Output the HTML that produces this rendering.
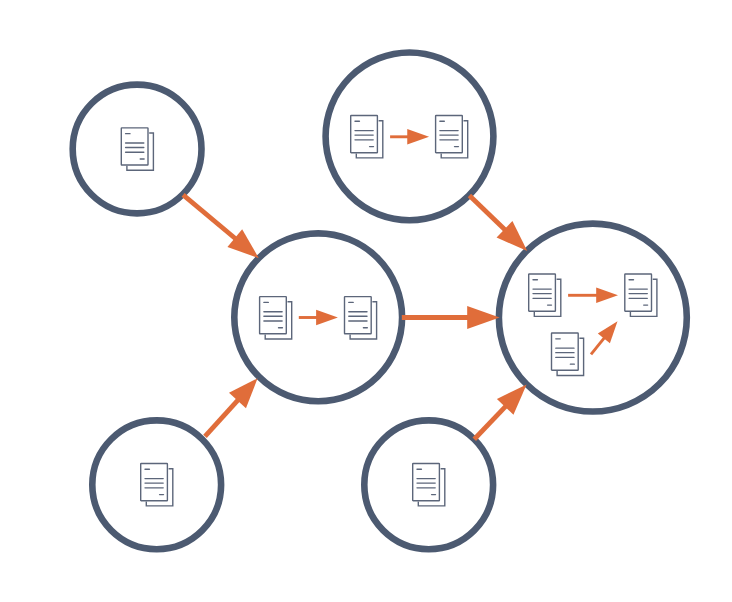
<!DOCTYPE html>
<html><head><meta charset="utf-8"><style>
html,body{margin:0;padding:0;background:#fff;width:732px;height:602px;overflow:hidden;font-family:"Liberation Sans",sans-serif;}
svg{display:block;position:absolute;left:0;top:0;}
</style></head><body>
<svg width="732" height="602" viewBox="0 0 732 602">
<circle cx="137.1" cy="149.0" r="64.4" fill="none" stroke="#4c5a71" stroke-width="6.6"/>
<circle cx="409.5" cy="136.35" r="83.9" fill="none" stroke="#4c5a71" stroke-width="6.6"/>
<circle cx="318.2" cy="317.3" r="83.9" fill="none" stroke="#4c5a71" stroke-width="6.6"/>
<circle cx="592.85" cy="317.6" r="93.95" fill="none" stroke="#4c5a71" stroke-width="6.6"/>
<circle cx="156.7" cy="484.8" r="64.4" fill="none" stroke="#4c5a71" stroke-width="6.6"/>
<circle cx="428.7" cy="484.8" r="64.4" fill="none" stroke="#4c5a71" stroke-width="6.6"/>
<g transform="translate(120.9,127.15)"><rect x="0.39999999999999997" y="0.7" width="26.700000000000003" height="37.2" rx="0.5" fill="none" stroke="#5c667a" stroke-width="1.4"/><path d="M28.3 5.9 H32.5 V43.099999999999994 H6.0 V38.6" fill="none" stroke="#5c667a" stroke-width="1.4"/><line x1="4.7" y1="6.5" x2="9.100000000000001" y2="6.5" stroke="#5c667a" stroke-width="1.4" stroke-linecap="round"/><line x1="4.7" y1="15.8" x2="22.900000000000002" y2="15.8" stroke="#5c667a" stroke-width="1.4" stroke-linecap="round"/><line x1="4.7" y1="20.3" x2="22.900000000000002" y2="20.3" stroke="#5c667a" stroke-width="1.4" stroke-linecap="round"/><line x1="4.7" y1="25.05" x2="22.900000000000002" y2="25.05" stroke="#5c667a" stroke-width="1.4" stroke-linecap="round"/><line x1="19.3" y1="31.8" x2="23.2" y2="31.8" stroke="#5c667a" stroke-width="1.4" stroke-linecap="round"/></g>
<g transform="translate(350.3,114.8)"><rect x="0.39999999999999997" y="0.7" width="26.700000000000003" height="37.2" rx="0.5" fill="none" stroke="#5c667a" stroke-width="1.4"/><path d="M28.3 5.9 H32.5 V43.099999999999994 H6.0 V38.6" fill="none" stroke="#5c667a" stroke-width="1.4"/><line x1="4.7" y1="6.5" x2="9.100000000000001" y2="6.5" stroke="#5c667a" stroke-width="1.4" stroke-linecap="round"/><line x1="4.7" y1="15.8" x2="22.900000000000002" y2="15.8" stroke="#5c667a" stroke-width="1.4" stroke-linecap="round"/><line x1="4.7" y1="20.3" x2="22.900000000000002" y2="20.3" stroke="#5c667a" stroke-width="1.4" stroke-linecap="round"/><line x1="4.7" y1="25.05" x2="22.900000000000002" y2="25.05" stroke="#5c667a" stroke-width="1.4" stroke-linecap="round"/><line x1="19.3" y1="31.8" x2="23.2" y2="31.8" stroke="#5c667a" stroke-width="1.4" stroke-linecap="round"/></g>
<g transform="translate(435.2,114.8)"><rect x="0.39999999999999997" y="0.7" width="26.700000000000003" height="37.2" rx="0.5" fill="none" stroke="#5c667a" stroke-width="1.4"/><path d="M28.3 5.9 H32.5 V43.099999999999994 H6.0 V38.6" fill="none" stroke="#5c667a" stroke-width="1.4"/><line x1="4.7" y1="6.5" x2="9.100000000000001" y2="6.5" stroke="#5c667a" stroke-width="1.4" stroke-linecap="round"/><line x1="4.7" y1="15.8" x2="22.900000000000002" y2="15.8" stroke="#5c667a" stroke-width="1.4" stroke-linecap="round"/><line x1="4.7" y1="20.3" x2="22.900000000000002" y2="20.3" stroke="#5c667a" stroke-width="1.4" stroke-linecap="round"/><line x1="4.7" y1="25.05" x2="22.900000000000002" y2="25.05" stroke="#5c667a" stroke-width="1.4" stroke-linecap="round"/><line x1="19.3" y1="31.8" x2="23.2" y2="31.8" stroke="#5c667a" stroke-width="1.4" stroke-linecap="round"/></g>
<g transform="translate(259.2,295.9)"><rect x="0.39999999999999997" y="0.7" width="26.700000000000003" height="37.2" rx="0.5" fill="none" stroke="#5c667a" stroke-width="1.4"/><path d="M28.3 5.9 H32.5 V43.099999999999994 H6.0 V38.6" fill="none" stroke="#5c667a" stroke-width="1.4"/><line x1="4.7" y1="6.5" x2="9.100000000000001" y2="6.5" stroke="#5c667a" stroke-width="1.4" stroke-linecap="round"/><line x1="4.7" y1="15.8" x2="22.900000000000002" y2="15.8" stroke="#5c667a" stroke-width="1.4" stroke-linecap="round"/><line x1="4.7" y1="20.3" x2="22.900000000000002" y2="20.3" stroke="#5c667a" stroke-width="1.4" stroke-linecap="round"/><line x1="4.7" y1="25.05" x2="22.900000000000002" y2="25.05" stroke="#5c667a" stroke-width="1.4" stroke-linecap="round"/><line x1="19.3" y1="31.8" x2="23.2" y2="31.8" stroke="#5c667a" stroke-width="1.4" stroke-linecap="round"/></g>
<g transform="translate(344.1,295.9)"><rect x="0.39999999999999997" y="0.7" width="26.700000000000003" height="37.2" rx="0.5" fill="none" stroke="#5c667a" stroke-width="1.4"/><path d="M28.3 5.9 H32.5 V43.099999999999994 H6.0 V38.6" fill="none" stroke="#5c667a" stroke-width="1.4"/><line x1="4.7" y1="6.5" x2="9.100000000000001" y2="6.5" stroke="#5c667a" stroke-width="1.4" stroke-linecap="round"/><line x1="4.7" y1="15.8" x2="22.900000000000002" y2="15.8" stroke="#5c667a" stroke-width="1.4" stroke-linecap="round"/><line x1="4.7" y1="20.3" x2="22.900000000000002" y2="20.3" stroke="#5c667a" stroke-width="1.4" stroke-linecap="round"/><line x1="4.7" y1="25.05" x2="22.900000000000002" y2="25.05" stroke="#5c667a" stroke-width="1.4" stroke-linecap="round"/><line x1="19.3" y1="31.8" x2="23.2" y2="31.8" stroke="#5c667a" stroke-width="1.4" stroke-linecap="round"/></g>
<g transform="translate(528.3,273.3)"><rect x="0.39999999999999997" y="0.7" width="26.700000000000003" height="37.2" rx="0.5" fill="none" stroke="#5c667a" stroke-width="1.4"/><path d="M28.3 5.9 H32.5 V43.099999999999994 H6.0 V38.6" fill="none" stroke="#5c667a" stroke-width="1.4"/><line x1="4.7" y1="6.5" x2="9.100000000000001" y2="6.5" stroke="#5c667a" stroke-width="1.4" stroke-linecap="round"/><line x1="4.7" y1="15.8" x2="22.900000000000002" y2="15.8" stroke="#5c667a" stroke-width="1.4" stroke-linecap="round"/><line x1="4.7" y1="20.3" x2="22.900000000000002" y2="20.3" stroke="#5c667a" stroke-width="1.4" stroke-linecap="round"/><line x1="4.7" y1="25.05" x2="22.900000000000002" y2="25.05" stroke="#5c667a" stroke-width="1.4" stroke-linecap="round"/><line x1="19.3" y1="31.8" x2="23.2" y2="31.8" stroke="#5c667a" stroke-width="1.4" stroke-linecap="round"/></g>
<g transform="translate(624.4,273.3)"><rect x="0.39999999999999997" y="0.7" width="26.700000000000003" height="37.2" rx="0.5" fill="none" stroke="#5c667a" stroke-width="1.4"/><path d="M28.3 5.9 H32.5 V43.099999999999994 H6.0 V38.6" fill="none" stroke="#5c667a" stroke-width="1.4"/><line x1="4.7" y1="6.5" x2="9.100000000000001" y2="6.5" stroke="#5c667a" stroke-width="1.4" stroke-linecap="round"/><line x1="4.7" y1="15.8" x2="22.900000000000002" y2="15.8" stroke="#5c667a" stroke-width="1.4" stroke-linecap="round"/><line x1="4.7" y1="20.3" x2="22.900000000000002" y2="20.3" stroke="#5c667a" stroke-width="1.4" stroke-linecap="round"/><line x1="4.7" y1="25.05" x2="22.900000000000002" y2="25.05" stroke="#5c667a" stroke-width="1.4" stroke-linecap="round"/><line x1="19.3" y1="31.8" x2="23.2" y2="31.8" stroke="#5c667a" stroke-width="1.4" stroke-linecap="round"/></g>
<g transform="translate(551.1,332.35)"><rect x="0.39999999999999997" y="0.7" width="26.700000000000003" height="37.2" rx="0.5" fill="none" stroke="#5c667a" stroke-width="1.4"/><path d="M28.3 5.9 H32.5 V43.099999999999994 H6.0 V38.6" fill="none" stroke="#5c667a" stroke-width="1.4"/><line x1="4.7" y1="6.5" x2="9.100000000000001" y2="6.5" stroke="#5c667a" stroke-width="1.4" stroke-linecap="round"/><line x1="4.7" y1="15.8" x2="22.900000000000002" y2="15.8" stroke="#5c667a" stroke-width="1.4" stroke-linecap="round"/><line x1="4.7" y1="20.3" x2="22.900000000000002" y2="20.3" stroke="#5c667a" stroke-width="1.4" stroke-linecap="round"/><line x1="4.7" y1="25.05" x2="22.900000000000002" y2="25.05" stroke="#5c667a" stroke-width="1.4" stroke-linecap="round"/><line x1="19.3" y1="31.8" x2="23.2" y2="31.8" stroke="#5c667a" stroke-width="1.4" stroke-linecap="round"/></g>
<g transform="translate(140.3,462.8)"><rect x="0.39999999999999997" y="0.7" width="26.700000000000003" height="37.2" rx="0.5" fill="none" stroke="#5c667a" stroke-width="1.4"/><path d="M28.3 5.9 H32.5 V43.099999999999994 H6.0 V38.6" fill="none" stroke="#5c667a" stroke-width="1.4"/><line x1="4.7" y1="6.5" x2="9.100000000000001" y2="6.5" stroke="#5c667a" stroke-width="1.4" stroke-linecap="round"/><line x1="4.7" y1="15.8" x2="22.900000000000002" y2="15.8" stroke="#5c667a" stroke-width="1.4" stroke-linecap="round"/><line x1="4.7" y1="20.3" x2="22.900000000000002" y2="20.3" stroke="#5c667a" stroke-width="1.4" stroke-linecap="round"/><line x1="4.7" y1="25.05" x2="22.900000000000002" y2="25.05" stroke="#5c667a" stroke-width="1.4" stroke-linecap="round"/><line x1="19.3" y1="31.8" x2="23.2" y2="31.8" stroke="#5c667a" stroke-width="1.4" stroke-linecap="round"/></g>
<g transform="translate(412.3,462.8)"><rect x="0.39999999999999997" y="0.7" width="26.700000000000003" height="37.2" rx="0.5" fill="none" stroke="#5c667a" stroke-width="1.4"/><path d="M28.3 5.9 H32.5 V43.099999999999994 H6.0 V38.6" fill="none" stroke="#5c667a" stroke-width="1.4"/><line x1="4.7" y1="6.5" x2="9.100000000000001" y2="6.5" stroke="#5c667a" stroke-width="1.4" stroke-linecap="round"/><line x1="4.7" y1="15.8" x2="22.900000000000002" y2="15.8" stroke="#5c667a" stroke-width="1.4" stroke-linecap="round"/><line x1="4.7" y1="20.3" x2="22.900000000000002" y2="20.3" stroke="#5c667a" stroke-width="1.4" stroke-linecap="round"/><line x1="4.7" y1="25.05" x2="22.900000000000002" y2="25.05" stroke="#5c667a" stroke-width="1.4" stroke-linecap="round"/><line x1="19.3" y1="31.8" x2="23.2" y2="31.8" stroke="#5c667a" stroke-width="1.4" stroke-linecap="round"/></g>
<line x1="183.10" y1="194.80" x2="235.57" y2="238.75" stroke="#e06d3a" stroke-width="4.8"/><polygon points="258.80,258.20 227.45,246.88 242.16,229.33" fill="#e06d3a"/>
<line x1="205.00" y1="436.40" x2="238.14" y2="399.80" stroke="#e06d3a" stroke-width="4.8"/><polygon points="257.60,378.30 245.95,408.22 228.98,392.86" fill="#e06d3a"/>
<line x1="401.80" y1="317.50" x2="468.20" y2="317.50" stroke="#e06d3a" stroke-width="4.8"/><polygon points="499.60,317.50 467.20,328.95 467.20,306.05" fill="#e06d3a"/>
<line x1="469.40" y1="195.60" x2="505.22" y2="229.90" stroke="#e06d3a" stroke-width="4.8"/><polygon points="527.25,251.00 496.58,237.48 512.42,220.94" fill="#e06d3a"/>
<line x1="474.26" y1="439.26" x2="505.87" y2="406.19" stroke="#e06d3a" stroke-width="4.8"/><polygon points="526.60,384.50 513.46,414.82 496.90,399.00" fill="#e06d3a"/>
<line x1="390.10" y1="136.80" x2="408.26" y2="136.80" stroke="#e06d3a" stroke-width="2.9"/><polygon points="429.06,136.80 407.26,144.55 407.26,129.05" fill="#e06d3a"/>
<line x1="298.80" y1="317.50" x2="317.10" y2="317.50" stroke="#e06d3a" stroke-width="2.9"/><polygon points="337.90,317.50 316.10,325.25 316.10,309.75" fill="#e06d3a"/>
<line x1="568.10" y1="295.30" x2="597.20" y2="295.30" stroke="#e06d3a" stroke-width="2.9"/><polygon points="618.00,295.30 596.20,303.05 596.20,287.55" fill="#e06d3a"/>
<line x1="591.00" y1="354.40" x2="604.49" y2="337.59" stroke="#e06d3a" stroke-width="2.9"/><polygon points="617.50,321.36 609.91,343.21 597.81,333.52" fill="#e06d3a"/>
</svg>
</body></html>
